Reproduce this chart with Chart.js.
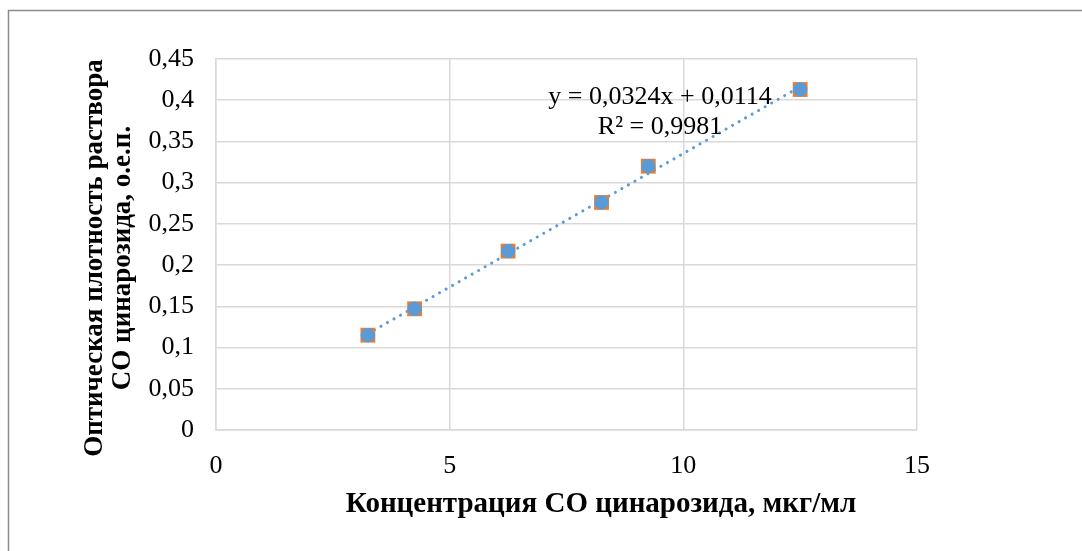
<!DOCTYPE html>
<html>
<head>
<meta charset="utf-8">
<script src="https://cdn.jsdelivr.net/npm/chart.js@4/dist/chart.umd.min.js"></script>
<style>
  html, body { margin: 0; padding: 0; background: #fff; }
  #wrap { position: relative; width: 1082px; height: 551px; }
</style>
</head>
<body>
<div id="wrap"><canvas id="chart"></canvas></div>
<script>
// data
const concentration = [3.25, 4.25, 6.25, 8.25, 9.25, 12.5];
const absorbance = [0.115, 0.147, 0.217, 0.276, 0.320, 0.413];
// linear trendline end points
const trendX = [3.25, 12.5];
const trendY = [0.1167, 0.4164];
const equationText = 'y = 0,0324x + 0,0114';
const r2Text = 'R² = 0,9981';
const xTitle = 'Концентрация СО цинарозида, мкг/мл';
const yTitleLines = ['Оптическая плотность раствора', 'СО цинарозида, о.е.п.'];

const SERIF = '"Liberation Serif", "Times New Roman", serif';
const BLUE = '#5b9bd5';
const ORANGE = '#ed7d31';
const GRID = '#d9d9d9';

function toPoints(xs, ys) {
  return xs.map(function(x, i) { return { x: x, y: ys[i] }; });
}

// frame, axis titles and equation label
const decorPlugin = {
  id: 'decor',
  beforeDraw: function(chart) {
    const ctx = chart.ctx;
    ctx.save();
    ctx.strokeStyle = '#8c8c8c';
    ctx.lineWidth = 1.5;
    ctx.beginPath();
    ctx.moveTo(8.5, 551);
    ctx.lineTo(8.5, 10.5);
    ctx.lineTo(1082, 10.5);
    ctx.stroke();
    ctx.restore();
  },
  afterDraw: function(chart) {
    const ctx = chart.ctx;
    ctx.save();
    ctx.fillStyle = '#000';
    ctx.textAlign = 'center';
    ctx.textBaseline = 'middle';

    // x title
    ctx.font = 'bold 29px ' + SERIF;
    ctx.fillText(xTitle, 601, 505);

    // y title, two rotated lines
    ctx.font = 'bold 27px ' + SERIF;
    ctx.save();
    ctx.translate(109, 258);
    ctx.rotate(-Math.PI / 2);
    ctx.fillText(yTitleLines[0], 0, -14);
    ctx.fillText(yTitleLines[1], 0, 14);
    ctx.restore();

    // trendline equation
    ctx.font = '26px ' + SERIF;
    ctx.fillText(equationText, 660, 97);
    ctx.fillText(r2Text, 660, 127);
    ctx.restore();
  }
};

new Chart(document.getElementById('chart'), {
  type: 'scatter',
  data: {
    datasets: [
      {
        label: 'trend',
        type: 'line',
        data: toPoints(trendX, trendY),
        borderColor: BLUE,
        borderWidth: 3,
        borderDash: [0.1, 7.4],
        borderCapStyle: 'round',
        pointRadius: 0,
        fill: false,
        order: 3
      },
      {
        label: 'squares',
        data: toPoints(concentration, absorbance),
        pointStyle: 'rect',
        pointRadius: 10.5,
        backgroundColor: ORANGE,
        borderColor: ORANGE,
        borderWidth: 0,
        order: 2
      },
      {
        label: 'circles',
        data: toPoints(concentration, absorbance),
        pointStyle: 'circle',
        pointRadius: 7.2,
        backgroundColor: BLUE,
        borderColor: BLUE,
        borderWidth: 0,
        order: 1
      }
    ]
  },
  options: {
    responsive: true,
    maintainAspectRatio: false,
    animation: false,
    events: [],
    layout: { padding: { top: 59, right: 165, left: 0, bottom: 0 } },
    plugins: {
      legend: { display: false },
      tooltip: { enabled: false }
    },
    scales: {
      x: {
        type: 'linear',
        min: 0,
        max: 15,
        afterFit: function(scale) { scale.height = 121; },
        grid: { color: GRID, lineWidth: 1.5, drawTicks: false },
        border: { color: GRID, width: 1.5 },
        ticks: {
          stepSize: 5,
          padding: 21,
          color: '#000',
          font: { family: SERIF, size: 26 }
        }
      },
      y: {
        type: 'linear',
        min: 0,
        max: 0.45,
        afterFit: function(scale) { scale.width = 216; },
        grid: { color: GRID, lineWidth: 1.5, drawTicks: false },
        border: { color: GRID, width: 1.5 },
        ticks: {
          stepSize: 0.05,
          padding: 22,
          color: '#000',
          font: { family: SERIF, size: 26 },
          callback: function(v) {
            return String(Math.round(v * 100) / 100).replace('.', ',');
          }
        }
      }
    }
  },
  plugins: [decorPlugin]
});
</script>
</body>
</html>
